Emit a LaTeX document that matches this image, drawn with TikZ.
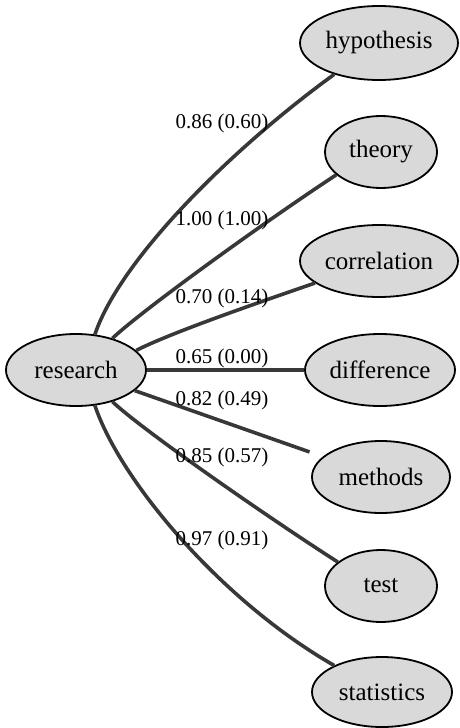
\documentclass[tikz,border=0pt]{standalone}
\usepackage{fontspec}
\setmainfont{Liberation Serif}
\usetikzlibrary{shapes.geometric}
\definecolor{nodefill}{HTML}{D9D9D9}
\definecolor{edgecol}{HTML}{383838}
\tikzset{
  term/.style={ellipse, draw=black, line width=1.8pt, fill=nodefill,
    inner sep=0pt, font=\fontsize{25}{25}\selectfont},
  link/.style={draw=edgecol, line width=3.6pt},
  weight/.style={font=\fontsize{21}{21}\selectfont, inner sep=0pt}
}
\begin{document}
\begin{tikzpicture}[x=1pt, y=-1pt]
  \useasboundingbox (0,0) rectangle (459,728);

  % concept nodes
  \node[term, minimum width=140pt, minimum height=72pt] (research)   at (76,370)  {research};
  \node[term, minimum width=158pt, minimum height=74pt] (hypothesis) at (379,43)  {hypothesis};
  \node[term, minimum width=112pt, minimum height=72pt] (theory)     at (381,152) {theory};
  \node[term, minimum width=158pt, minimum height=72pt] (correlation) at (379,261) {correlation};
  \node[term, minimum width=150pt, minimum height=72pt] (difference) at (380,370) {difference};
  \node[term, minimum width=138pt, minimum height=72pt] (methods)    at (381,477) {methods};
  \node[term, minimum width=112pt, minimum height=72pt] (test)       at (381,586) {test};
  \node[term, minimum width=140pt, minimum height=70pt] (statistics) at (382,692) {statistics};

  % weighted links
  \draw[link] (research.62) .. controls (120,260) and (230,150) .. (hypothesis.215);
  \draw[link] (research.41) .. controls (140,312) and (260,225) .. (theory.207);
  \draw[link] (research.18) .. controls (170,333) and (260,302) .. (correlation.199);
  \draw[link] (research.east) -- (difference.west);
  \draw[link, shorten >=14pt] (research) -- (methods);
  \draw[link] (research.-41) .. controls (140,428) and (260,512) .. (test.151);
  \draw[link] (research.-62) .. controls (120,480) and (220,600) .. (statistics.151);

  % link weights
  \node[weight] (w1) at (222,123) {0.86 (0.60)};
  \node[weight] (w2) at (222,220) {1.00 (1.00)};
  \node[weight] (w3) at (222,298) {0.70 (0.14)};
  \node[weight] (w4) at (222,358) {0.65 (0.00)};
  \node[weight] (w5) at (222,400) {0.82 (0.49)};
  \node[weight] (w6) at (222,457) {0.85 (0.57)};
  \node[weight] (w7) at (222,540) {0.97 (0.91)};
\end{tikzpicture}
\end{document}
